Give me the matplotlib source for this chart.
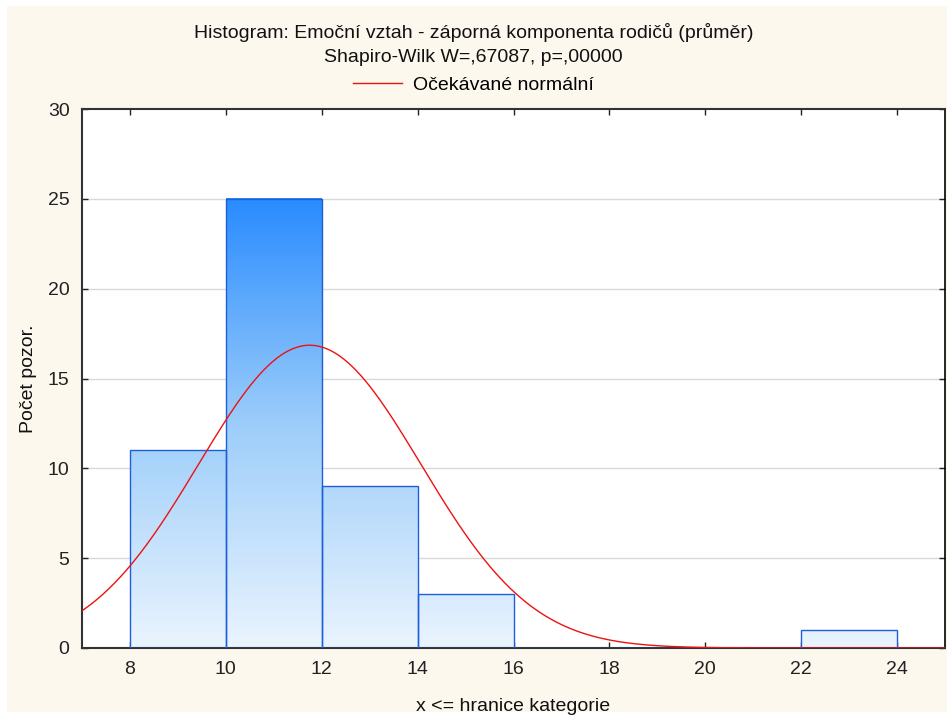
import numpy as np
import matplotlib
matplotlib.use("Agg")
import matplotlib.pyplot as plt
from matplotlib.colors import LinearSegmentedColormap
from matplotlib.patches import Rectangle

plt.rcParams['font.family'] = ['Liberation Sans', 'DejaVu Sans']

# data
bin_left = [8, 10, 12, 14, 16, 18, 20, 22]
counts = [11, 25, 9, 3, 0, 0, 0, 1]
bin_width = 2
fit_mean = 11.75
fit_sd = 2.32
n_obs = 49
x_ticks = [8, 10, 12, 14, 16, 18, 20, 22, 24]
y_ticks = [0, 5, 10, 15, 20, 25, 30]

title_lines = ["Histogram: Emoční vztah - záporná komponenta rodičů (průměr)",
               "Shapiro-Wilk W=,67087, p=,00000"]
curve_label = "Očekávané normální"

fs = 14

fig = plt.figure(figsize=(9.47, 7.18), dpi=100, facecolor="white")
fig.patches.append(Rectangle((7 / 947, 6 / 718), 1 - 7 / 947, 706 / 718,
                             transform=fig.transFigure, facecolor="#fdf8ee",
                             edgecolor="none", zorder=-10))

ax = fig.add_axes([82 / 947, 1 - 648 / 718, (945 - 82) / 947, (648 - 109) / 718])
ax.set_facecolor("white")

cmap = LinearSegmentedColormap.from_list("grad", ["#eaf4fe", "#9ccdfa", "#2a8cff"])
for x0, c in zip(bin_left, counts):
    if c == 0:
        continue
    grad = np.linspace(0, c, 100).reshape(-1, 1)
    ax.imshow(grad, cmap=cmap, vmin=0, vmax=25, origin="lower", aspect="auto",
              extent=(x0, x0 + bin_width, 0, c), zorder=2, interpolation="bilinear")
ax.bar(bin_left, counts, width=bin_width, align="edge", fill=False,
       edgecolor="#1e5fd8", linewidth=1.0, zorder=3)

xs = np.linspace(7, 25, 400)
ys = n_obs * bin_width / (fit_sd * np.sqrt(2 * np.pi)) * np.exp(-(xs - fit_mean) ** 2 / (2 * fit_sd ** 2))
line, = ax.plot(xs, ys, color="#ee1111", linewidth=1.0, zorder=4)

ax.set_xlim(7, 25)
ax.set_ylim(0, 30)
ax.set_xticks(x_ticks)
ax.set_yticks(y_ticks)
ax.tick_params(direction="in", length=4, width=1, labelsize=fs, top=True, right=True,
               colors="#222222", pad=9)
for y in y_ticks[1:-1]:
    ax.axhline(y, color="#d9d9d9", linewidth=1, zorder=1)
for side in ["left", "bottom", "top"]:
    ax.spines[side].set_color("#333333")
    ax.spines[side].set_linewidth(1.5)
ax.spines["right"].set_color("black")
ax.spines["right"].set_linewidth(1.2)

ax.set_xlabel("x <= hranice kategorie", fontsize=fs, labelpad=15, color="#111111")
ax.set_ylabel("Počet pozor.", fontsize=fs, labelpad=8, color="#111111")

fig.text(0.5, 1 - 32 / 718, title_lines[0], ha="center", va="center", fontsize=fs, color="#111111")
fig.text(0.5, 1 - 58 / 718, title_lines[1], ha="center", va="center", fontsize=fs, color="#111111")
fig.legend([line], [curve_label], loc="center", bbox_to_anchor=(0.5, 1 - 85 / 718),
           frameon=False, fontsize=fs, handlelength=2.5, handletextpad=0.6)

fig.savefig("out.png", dpi=100, facecolor=fig.get_facecolor())
